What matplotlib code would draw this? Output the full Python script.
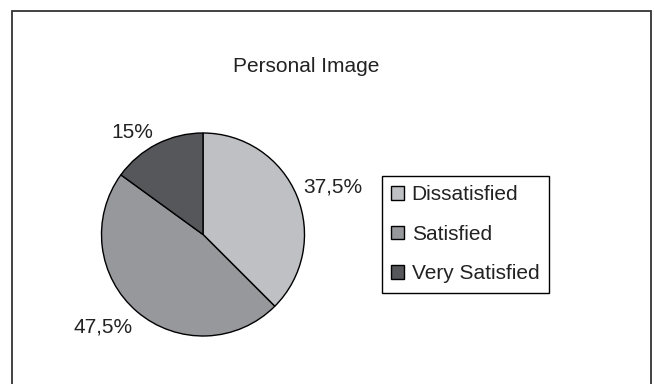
import matplotlib
matplotlib.use("Agg")
import matplotlib.pyplot as plt
import numpy as np
from matplotlib.patches import Rectangle

plt.rcParams['font.family'] = ['Liberation Sans', 'DejaVu Sans']

# данные
title = "Personal Image"
categories = ["Dissatisfied", "Satisfied", "Very Satisfied"]
values = [37.5, 47.5, 15]
colors = ["#bfc0c4", "#97989c", "#56575b"]

W, H = 654, 384
fig = plt.figure(figsize=(W / 100, H / 100), dpi=100)

# рамка вокруг диаграммы
fig.add_artist(Rectangle((12 / W, -0.02), (651 - 12) / W, (H - 11) / H + 0.02,
                         transform=fig.transFigure, fill=False,
                         edgecolor="#333333", linewidth=1.3))

# круговая диаграмма
cx, cy, r = 203, 234.5, 101.5
ax = fig.add_axes([(cx - r) / W, (H - cy - r) / H, 2 * r / W, 2 * r / H])
labels = [f"{v:g}%".replace(".", ",") for v in values]
wedges, texts = ax.pie(values, labels=labels, colors=colors, startangle=90,
                       counterclock=False,
                       wedgeprops=dict(edgecolor="black", linewidth=1),
                       textprops=dict(fontsize=15, color="#222222"))

# подписи снаружи, угол подписи прижат к краю сектора (как в Excel)
d = 1.07
for w, t in zip(wedges, texts):
    ang = np.deg2rad((w.theta1 + w.theta2) / 2)
    x, y = d * np.cos(ang), d * np.sin(ang)
    t.set_position((x, y))
    t.set_ha("left" if x > 0 else "right")
    t.set_va("baseline" if y > 0 else "top")
ax.set_xlim(-1, 1)
ax.set_ylim(-1, 1)

fig.text(306 / W, 1 - 66 / H, title, ha="center", va="center",
         fontsize=15, color="#222222")

leg = fig.legend(wedges, categories, loc="upper left",
                 bbox_to_anchor=(382 / W, 1 - 176 / H), borderaxespad=0,
                 fontsize=15, frameon=True, fancybox=False, framealpha=1,
                 edgecolor="black", handlelength=0.62, handleheight=0.62,
                 handletextpad=0.35, labelspacing=0.98, borderpad=0.45)
leg.get_frame().set_linewidth(1)
for t in leg.get_texts():
    t.set_color("#222222")

fig.savefig("out.png", dpi=100)
